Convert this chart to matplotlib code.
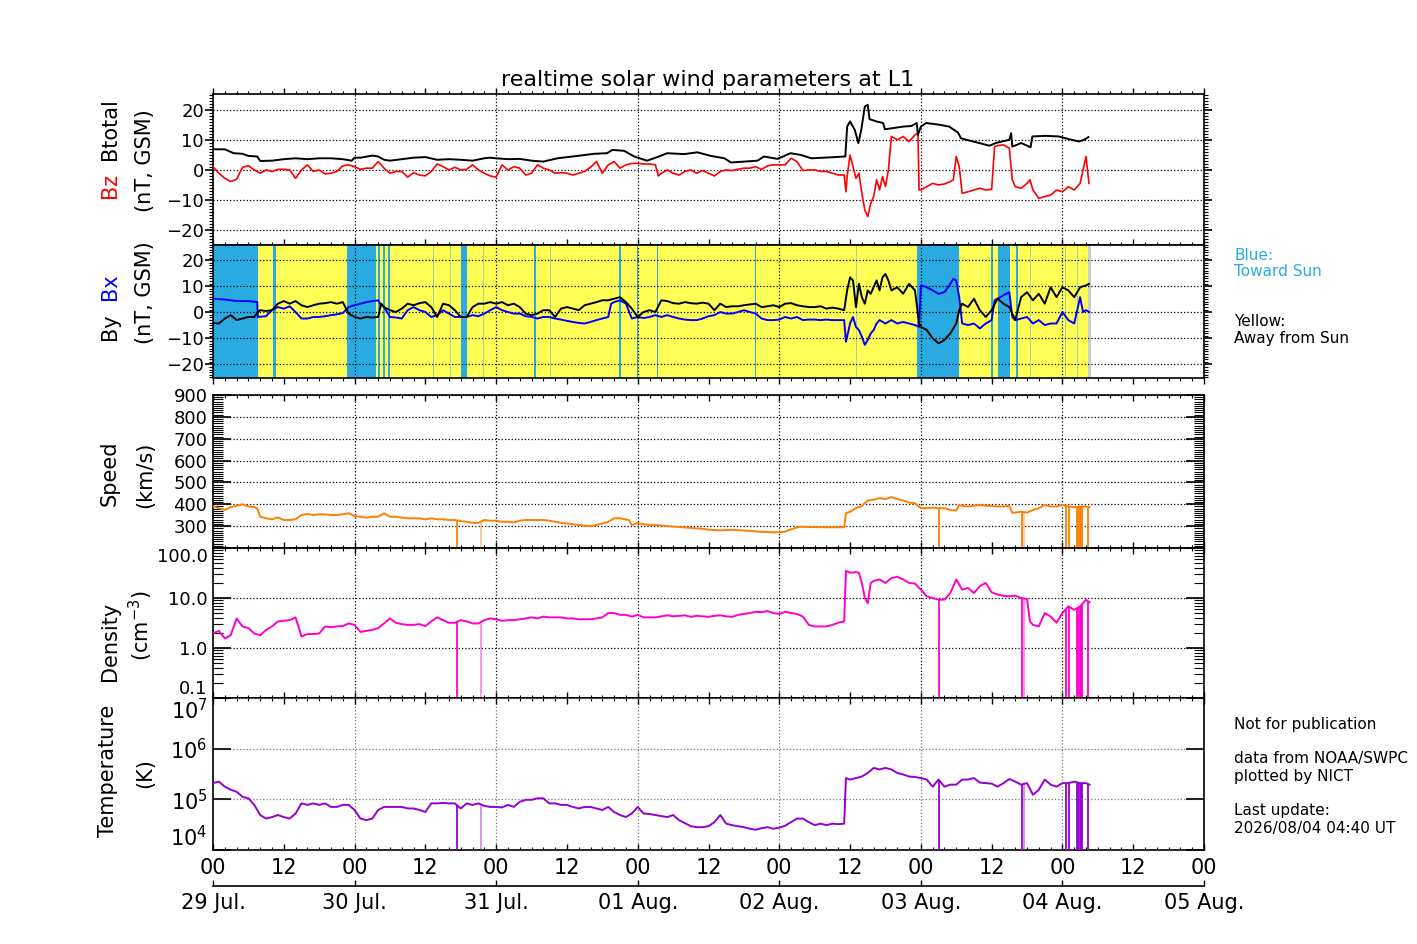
import numpy as np
import matplotlib
matplotlib.use('Agg')
import matplotlib.pyplot as plt
from matplotlib.ticker import MultipleLocator, FixedLocator, LogLocator, NullFormatter

# 時刻は 29 Jul. 00 UT からの経過時間 [h]
# 磁場 Btotal [nT]
bt = [(0,7.0),(2,7.0),(3.5,5.7),(5,5.5),(6,4.8),(7.5,4.6),(8,3.1),(10,3.2),(12,3.7),(14,4.0),
      (16,3.7),(18,4.0),(20,4.0),(22,3.7),(23.5,3.2),(24,4.2),(25,4.2),(27,4.9),(28,4.6),(29,3.5),
      (30,3.2),(32,3.7),(34,4.2),(36,4.4),(38,3.5),(40,3.7),(42,3.5),(44,3.2),(46,4.0),(47,4.2),
      (48,4.0),(50,3.7),(52,3.8),(54,3.2),(56,2.9),(58.4,4.0),(61.8,4.8),(64.6,5.5),(66.8,5.7),(67.7,6.8),
      (69.7,6.5),(71.4,4.6),(73.6,3.2),(75.6,4.6),(77,5.7),(79.9,5.4),(82.1,6.0),(84.4,4.8),(86.7,4.0),(87.8,2.6),
      (90.1,2.9),(92.3,3.2),(93.4,4.6),(95.7,3.8),(97.9,5.7),(99.7,5.1),(101.4,4.0),(103.6,4.2),(107.2,4.6),(107.5,14.6),
      (108,16.3),(108.8,13.5),(109.4,9.1),(109.9,13.5),(110.5,21.3),(111,21.9),(111.3,17.1),(112.5,16.3),(113.6,15.8),(113.9,13.7),
      (115.3,14.1),(117,14.6),(118.4,14.8),(119.3,15.8),(119.5,11.8),(120,14.6),(120.9,15.8),(123.2,15.2),(124.8,14.6),(126.3,12.6),
      (126.8,10.7),(127.7,10.2),(129.9,9.1),(131.6,8.2),(132.7,9.1),(135,10.2),(135.3,12.4),(135.5,7.9),(137,9.1),(138.6,7.7),
      (138.9,11.3),(141.2,11.5),(143.4,11.3),(145.1,10.4),(146.8,9.6),(147.7,10.2),(148.4,11.1)]

# Bz (GSM) [nT]
bz = [(0,1.2),(1,-1.0),(2,-2.7),(3,-3.8),(4,-3.0),(5,1.0),(6,1.5),(7,0.1),(8,-1.0),(9,0.1),
      (10,-0.4),(11,0.3),(12,0.3),(13,0.1),(14,-2.7),(15,0.1),(16,1.8),(17,-0.4),(18,0.1),(19,-1.2),
      (20,-1.0),(21,-0.4),(22,1.5),(23,1.8),(24,1.2),(25,0.3),(26,0.7),(27,0.7),(28,2.9),(29,0.7),
      (30,-1.0),(31,-0.4),(32,-0.4),(33,-2.3),(34,-0.8),(35,-1.6),(36,-1.9),(37,-0.4),(38,2.1),(39,1.2),
      (40,0.1),(41,1.0),(42,0.1),(43,0.3),(44,1.8),(45,0.1),(46,-1.0),(47,-1.9),(48,-2.3),(49,1.8),
      (50,0.1),(51,1.2),(52,0.7),(53,-1.6),(54,-1.0),(55,1.8),(56,0.7),
      (57,0.1),(58,-1.0),(59,-0.8),(60,-1.0),(61,-1.6),(62,-1.0),(63,-0.4),(64,1.0),(65,2.9),(66,-1.0),
      (67,1.8),(68,2.9),(69,0.7),(70,1.8),(71,2.3),(72,2.3),(73,2.1),(74,2.1),(75,1.8),(75.5,-1.9),
      (76,-1.0),(77,0.1),(78,-1.0),(79,-1.6),(80,-0.4),(81,0.1),(82,-1.0),(83,-0.1),(84,-1.0),(85,-1.9),
      (86,-0.4),(87,0.1),(88,-0.1),(89,0.3),(90,0.7),(91,0.7),(92,1.2),(93,0.3),(94,1.5),(95,1.8),
      (96,1.8),(97,1.8),(98,4.0),(99,2.9),(100,-0.1),(101,0.1),(102,0.1),(103,-0.4),(104,-0.4),(105,-1.0),
      (106,-1.6),(107,-1.6),(107.3,-7.2),(107.5,-2.1),(108,5.1),(108.5,1.2),(109,-2.7),(109.5,-1.0),(110,-7.7),(110.5,-13.3),
      (111,-15.5),(111.5,-11.1),(112,-8.8),(112.5,-3.2),(113,-6.6),(113.5,-2.1),(114,-5.4),(114.5,0.1),(115,11.3),(116,10.2),
      (117,11.3),(118,9.6),(119,11.8),(119.5,12.4),(119.7,-6.6),(120,-6.6),(121,-5.5),(122,-4.4),(123,-4.9),(124,-4.6),
      (125,-3.8),(125.5,-3.2),(126,4.6),(126.5,1.2),(127,-7.7),(128,-7.2),(129,-6.6),(130,-6.0),(131,-6.6),(132,-6.4),
      (132.5,7.9),(133,8.2),(134,8.5),(135,7.4),(135.5,-3.2),(136,-5.5),(137,-6.0),(138,-4.4),(138.5,-3.2),(139,-6.6),
      (140,-9.4),(141,-8.8),(142,-8.3),(143,-6.6),(144,-7.2),(145,-5.5),(146,-6.6),(147,-4.4),(147.5,0.1),(148,4.6),
      (148.5,-4.4)]

# Bx (GSM) [nT]
bx = [(0,5.2),(2,4.9),(4,4.3),(6,4.3),(7.5,3.9),(7.6,-1.8),(9,-1.5),(10,0.8),(11,2.0),(12,1.4),
      (13,2.3),(14,0.1),(15,-2.4),(16,-2.4),(17,-1.8),(18,-1.8),(19,-1.5),(20,-1.1),(21,-0.8),(22,-0.3),
      (23,2.0),(24,2.7),(25,3.3),(26,3.9),(27,4.3),(28,4.6),(28.5,2.7),(29,2.0),(30,-1.8),(31,-2.0),
      (32,-2.4),(33,0.8),(34,2.0),(35,0.8),(36,0.1),(37,-1.8),(38,-1.1),(39,0.8),(40,-0.5),(41,-1.8),
      (42,-1.8),(43,-1.8),(44,-1.1),(45,-1.5),(46,-0.5),(47,0.8),(48,2.0),(49,0.8),(50,0.1),(51,-0.5),
      (52,-0.5),(53,-1.5),(54,-1.8),(55,-2.4),(56,-1.8),
      (57,-1.8),(58,-2.4),(59,-2.8),(60,-3.3),(61,-3.7),(62,-4.1),(63,-4.3),(64,-3.7),(65,-3.0),(66,-2.4),
      (67,-1.8),(67.5,3.3),(68,3.9),(69,4.6),(70,3.3),(71,-2.4),(72,-1.8),(73,-2.2),(74,-1.8),(75,-1.1),
      (76,-1.8),(77,-1.1),(78,-1.8),(79,-2.4),(80,-2.8),(81,-3.0),(82,-3.0),(83,-2.4),(84,-1.5),(85,-1.1),
      (86,0.1),(87,-0.5),(88,-0.5),(89,0.1),(90,0.8),(91,0.1),(92,-0.5),(93,-2.4),(94,-3.0),(95,-3.0),
      (96,-2.8),(97,-1.8),(98,-2.4),(99,-1.8),(100,-3.0),(101,-2.8),(102,-2.8),(103,-3.0),(104,-2.8),(105,-3.0),
      (106,-3.0),(107,-3.0),(107.3,-11.3),(107.5,-9.4),(108,-4.3),(108.5,-1.8),(109,-5.6),(109.5,-6.8),(110,-9.4),(110.5,-12.5),
      (111,-10.6),(111.5,-8.1),(112,-6.8),(112.5,-4.3),(113,-3.0),(114,-4.3),(115,-3.0),(116,-4.3),(117,-3.7),(118,-4.3),
      (119,-4.9),(119.7,-5.6),(120,10.3),(121,9.6),(122,8.4),(123,7.1),(124,7.7),(125,10.9),(125.5,12.8),(126,12.2),
      (126.5,5.8),(127,-4.3),(128,-4.9),(129,-4.3),(130,-6.2),(131,-4.3),(132,-3.0),(132.5,4.6),(133,5.2),(134,6.5),
      (135,7.7),(135.5,-1.8),(136,-3.0),(137,-2.4),(138,-1.8),(139,-4.3),(140,-3.0),(141,-4.9),(142,-4.3),(143,-4.3),
      (144,0.1),(145,-3.0),(146,-4.3),(147,5.8),(147.5,0.1),(148,0.8),(148.5,0.1)]

# By (GSM) [nT]
by = [(0,-4.1),(1,-4.3),(2,-2.4),(3,-1.1),(4,-3.0),(5,-2.4),(6,-1.8),(7,-1.8),(7.6,0.1),(8,0.8),
      (9,0.5),(10,0.8),(11,3.3),(12,4.3),(13,3.3),(14,4.3),(15,2.7),(16,2.0),(17,2.7),(18,3.3),
      (19,3.5),(20,3.9),(21,3.3),(22,3.9),(23,-0.5),(24,-1.8),(25,-2.4),(26,-1.8),(27,-2.0),(28,-1.8),
      (28.5,3.3),(29,2.0),(30,0.8),(31,0.1),(32,1.4),(33,3.3),(34,2.7),(35,3.5),(36,3.9),(37,2.0),
      (38,-1.8),(39,3.3),(40,2.7),(41,0.8),(42,-1.8),(43,-1.8),(44,2.0),(45,3.3),(46,3.3),(47,3.9),
      (48,3.3),(49,3.9),(50,2.7),(51,3.3),(52,2.0),(53,-0.5),(54,-1.1),(55,-0.5),(56,0.8),
      (57,0.8),(58,-1.8),(59,1.4),(60,2.0),(61,1.4),(62,0.8),(63,2.7),(64,3.3),(65,3.9),(66,4.6),
      (67,4.6),(68,5.2),(69,5.8),(70,3.9),(71,1.4),(72,-1.8),(73,0.1),(74,0.8),(75,0.1),(76,4.6),
      (77,4.3),(78,3.5),(79,3.3),(80,3.9),(81,3.5),(82,3.3),(83,3.7),(84,3.3),(85,0.8),(86,3.3),
      (87,2.0),(88,2.3),(89,2.3),(90,2.7),(91,3.0),(92,3.3),(93,2.0),(94,2.3),(95,2.7),(96,2.0),
      (97,3.3),(98,3.5),(99,2.7),(100,2.3),(101,2.0),(102,2.0),(103,2.3),(104,1.4),(105,1.8),(106,1.4),
      (107,0.8),(107.5,8.4),(108,13.4),(108.5,12.2),(109,2.0),(109.5,10.9),(110,5.8),(110.5,3.3),(111,8.4),(111.5,7.1),
      (112,9.6),(112.5,12.2),(113,8.4),(113.5,13.4),(114,14.7),(114.5,12.2),(115,8.4),(116,9.6),(117,7.1),(118,10.9),
      (119,8.4),(119.7,-4.3),(120,-5.6),(121,-6.8),(122,-10.0),(123,-11.9),(124,-10.6),(125,-8.1),(126,-4.3),(126.5,0.8),
      (127,3.3),(128,2.0),(129,5.2),(130,0.8),(131,-1.8),(132,0.8),(133,5.2),(134,3.3),(135,2.0),(136,-3.0),
      (137,5.8),(138,7.7),(139,4.6),(140,7.1),(141,3.3),(142,9.6),(143,5.8),(144,9.6),(145,8.4),(146,5.8),
      (147,9.6),(148,10.3),(148.5,10.9)]

# IMF セクター: 青 (Toward Sun) の区間 [h]
toward_spans = [(0,7.6),(10.2,10.6),(22.8,27.7),(28.0,28.3),(28.9,29.2),(29.6,30.0),(42.0,43.0),
                (54.5,54.7),(68.8,69.2),(71.9,72.1),(75.2,75.5),(91.9,92.1),(119.3,126.4),
                (131.9,132.3),(133.0,135.1),(136.1,136.4)]
faint_spans = [(14.0,14.15),(37.3,37.4),(37.9,38.0),(40.2,40.3),(45.8,45.9),(57.2,57.3),(109.0,109.1),
               (130.8,130.9),(138.5,138.6),(141.5,141.6),(144.5,144.6),(146.5,146.6),(147.3,147.4)]
data_end = 148.6

# 太陽風速度 [km/s]
speed = [(0,390),(1,382),(2,374),(3,387),(4,393),(5,400),(6,390),(7,387),(7.5,382),(8,343),
         (9,336),(10,331),(11,340),(12,328),(13,328),(14,331),(15,351),(16,356),(17,351),(18,354),
         (19,354),(20,351),(21,351),(22,354),(23,359),(24,346),(25,343),(26,339),(27,343),(28,343),
         (29,359),(30,343),(31,343),(32,339),(33,336),(34,336),(35,336),(36,331),(37,336),(38,331),
         (39,331),(40,328),(41,328),(42,323),(43,320),(44,315),(45,315),(46,328),(47,325),(48,325),
         (49,320),(50,320),(51,317),(52,325),(53,328),(54,328),(55,328),(56,328),(57,325),(58,320),
         (59,315),(60,312),(61,309),(62,305),(63,302),(64,300),(65,305),(66,312),(67,320),(68,336),
         (69,336),(70,331),(70.5,328),(71,305),(72,315),(73,309),(74,305),(75,305),(76,303),(77,300),
         (78,298),(79,296),(80,294),(81,292),(82,290),(83,288),(84,284),(85,282),(86,281),(87,282),
         (88,283),(89,282),(90,280),(91,278),(92,276),(93,274),(94,273),(95,272),(96,272),(97,275),
         (98,285),(99,294),(99.5,297),(101,296),(104,295),(107,295),(107.3,359),(108,366),(109,382),(110,393),
         (111,417),(112,421),(113,428),(114,424),(115,433),(116,424),(117,417),(118,408),(119,405),(120,382),
         (121,382),(122,385),(123,382),(124,382),(125,374),(126,371),(126.5,397),(127,393),(128,390),(129,393),
         (130,397),(131,393),(132,393),(133,390),(134,390),(135,393),(135.5,362),(136,362),(137,366),(138,362),
         (139,374),(140,382),(141,397),(142,390),(143,390),(144,397),(145,390),(146,387),(147,390),(148,390),
         (148.6,387)]

# 密度 [cm^-3]
density = [(0,1.95),(1,2.2),(2,1.55),(3,1.8),(4,3.9),(5,2.7),(6,2.5),(7,1.95),(8,1.8),(9,2.3),
           (10,2.7),(11,3.4),(12,3.5),(13,3.6),(14,4.1),(15,1.7),(16,1.9),(17,1.9),(18,1.95),(19,2.7),
           (20,2.6),(21,2.7),(22,2.75),(23,3.1),(24,2.9),(25,2.1),(26,2.2),(27,2.3),(28,2.5),(29,3.1),
           (30,3.9),(31,3.2),(32,3.0),(33,2.9),(34,2.9),(35,3.0),(36,2.75),(37,3.4),(38,4.1),(39,3.6),
           (40,3.2),(41,3.2),(42,3.6),(43,3.4),(44,3.1),(45,3.1),(46,3.6),(47,3.9),(48,3.75),(49,3.5),
           (50,3.6),(51,3.6),(52,3.75),(53,3.9),(54,4.1),(55,3.9),(56,4.25),(57,4.1),(58,4.1),(59,4.1),
           (60,3.9),(61,3.9),(62,3.75),(63,3.75),(64,3.75),(65,3.9),(66,4.1),(67,5.0),(68,5.0),(69,4.6),
           (70,4.6),(71,4.25),(72,4.6),(73,4.1),(74,4.1),(75,4.1),(76,4.3),(77,4.5),(78,4.3),(79,4.4),
           (80,4.5),(81,4.2),(82,4.4),(83,4.3),(84,4.2),(85,4.4),(86,4.5),(87,4.3),(88,4.2),(89,4.6),
           (90,4.8),(91,5.0),(92,5.3),(93,5.2),(94,5.5),(95,5.0),(96,4.8),(97,5.3),(98,5.0),(99,4.8),
           (100,4.25),(101,2.9),(102,2.7),(103,2.7),(104,2.7),(105,2.9),(106,3.2),(107,3.4),(107.3,35),(108,32),
           (109,33),(109.5,32),(110,20),(110.5,10),(111,7.9),(111.5,20),(112,22),(113,23.5),(114,20),(115,25),
           (116,26.6),(117,23.5),(118,20),(119,19.5),(120,14.7),(121,10.8),(122,10),(123,9.25),(124,9.25),(125,12.6),
           (126,23.5),(127,14.7),(128,15.9),(129,12.6),(130,17.2),(131,20),(132,13),(133,11.7),(134,11.1),(135,10.8),
           (136,11.1),(137,10),(138,9.5),(138.5,3.4),(139,2.9),(140,2.7),(141,5.0),(142,4.25),(143,3.2),(144,5.0),
           (145,6.8),(146,5.8),(147,6.8),(148,9.25),(148.6,8.2)]

# 温度 log10(T [K])
log_temp = [(0,5.32),(1,5.35),(2,5.25),(3,5.19),(4,5.15),(5,5.05),(6,5.02),(7,4.89),(8,4.69),(9,4.62),
            (10,4.65),(11,4.69),(12,4.65),(13,4.62),(14,4.72),(15,4.92),(16,4.89),(17,4.92),(18,4.89),(19,4.92),
            (20,4.85),(21,4.85),(22,4.89),(23,4.89),(24,4.79),(25,4.62),(26,4.59),(27,4.62),(28,4.79),(29,4.85),
            (30,4.85),(31,4.85),(32,4.85),(33,4.82),(34,4.82),(35,4.79),(36,4.75),(37,4.92),(38,4.92),(39,4.93),
            (40,4.92),(41,4.92),(42,4.82),(43,4.92),(44,4.89),(45,4.92),(46,4.87),(47,4.85),(48,4.85),(49,4.84),
            (50,4.89),(51,4.85),(52,4.95),(53,4.99),(54,4.99),(55,5.02),(56,5.02),(57,4.92),(58,4.92),(59,4.89),
            (60,4.89),(61,4.85),(62,4.82),(63,4.85),(64,4.85),(65,4.82),(66,4.79),(67,4.85),(68,4.75),(69,4.69),
            (70,4.65),(71,4.72),(72,4.85),(73,4.72),(74,4.71),(75,4.69),(76,4.67),(77,4.65),(78,4.69),(79,4.59),
            (80,4.53),(81,4.47),(82,4.45),(83,4.45),(84,4.47),(85,4.55),(86,4.69),(87,4.52),(88,4.49),(89,4.47),
            (90,4.45),(91,4.42),(92,4.40),(93,4.43),(94,4.45),(95,4.42),(96,4.44),(97,4.48),(98,4.55),(99,4.62),
            (100,4.62),(101,4.55),(102,4.49),(103,4.52),(104,4.49),(105,4.52),(106,4.51),(107,4.52),(107.3,5.42),(108,5.39),
            (109,5.42),(110,5.45),(111,5.52),(112,5.62),(113,5.59),(114,5.62),(115,5.59),(116,5.52),(117,5.49),(118,5.45),
            (119,5.44),(120,5.42),(121,5.39),(122,5.25),(123,5.39),(124,5.25),(125,5.29),(126,5.29),(127,5.39),(128,5.39),
            (129,5.42),(130,5.33),(131,5.32),(132,5.31),(133,5.25),(134,5.32),(135,5.40),(136,5.35),(137,5.29),(138,5.32),
            (139,5.09),(140,5.19),(141,5.39),(142,5.29),(143,5.25),(144,5.32),(145,5.32),(146,5.35),(147,5.32),(148,5.32),
            (148.6,5.29)]

# データ欠測 (プラズマ) の時刻 [h]
gaps = [41.4, 123.0, 137.2, 144.6, 145.1, 146.5, 146.7, 146.9, 147.1, 147.3, 148.3]
gaps_faint = [45.4, 137.5]

hour_labels = ['00', '12'] * 7 + ['00']
day_labels = ['29 Jul.', '30 Jul.', '31 Jul.', '01 Aug.', '02 Aug.', '03 Aug.', '04 Aug.', '05 Aug.']


def xy(pairs):
    a = np.array(pairs, dtype=float)
    return a[:, 0], a[:, 1]


plt.rcParams['font.family'] = ['DejaVu Sans']

W_PX, H_PX = 1417, 944
fig = plt.figure(figsize=(W_PX / 100, H_PX / 100), dpi=100)
L, W = 213 / W_PX, 991 / W_PX


def box(top, bot):
    return [L, 1 - bot / H_PX, W, (bot - top) / H_PX]


ax1 = fig.add_axes(box(94, 245))
ax2 = fig.add_axes(box(245, 378))
ax3 = fig.add_axes(box(395, 548))
ax4 = fig.add_axes(box(548, 698))
ax5 = fig.add_axes(box(698, 850))


def style(ax, tdir, ymaj, ymin, gcol='k', ypad=4):
    ax.set_xlim(0, 168)
    ax.xaxis.set_major_locator(MultipleLocator(12))
    ax.xaxis.set_minor_locator(MultipleLocator(2))
    ax.tick_params(which='both', direction=tdir, top=True, right=True,
                   labelbottom=False, labelsize=13)
    ax.tick_params(axis='x', which='major', length=4.5, width=1)
    ax.tick_params(axis='x', which='minor', length=2.5, width=0.8)
    ax.tick_params(axis='y', which='major', length=ymaj, width=1.2, pad=ypad)
    ax.tick_params(axis='y', which='minor', length=ymin, width=0.8)
    for d in range(24, 168, 24):
        ax.axvline(d, color=gcol, ls=':', lw=0.9, zorder=1)
    ax.grid(axis='y', which='major', ls=':', color=gcol, lw=0.9)
    ax.set_axisbelow(False)
    for s in ax.spines.values():
        s.set_linewidth(1.2)


# --- Btotal / Bz ---
style(ax1, 'out', 5.5, 3, ypad=1)
ax1.set_ylim(-25, 25.5)
ax1.yaxis.set_major_locator(FixedLocator([-20, -10, 0, 10, 20]))
ax1.yaxis.set_minor_locator(MultipleLocator(1))
t, v = xy(bz)
ax1.plot(t, v, color='#ff0000', lw=1.2, zorder=3)
t, v = xy(bt)
ax1.plot(t, v, color='k', lw=1.4, zorder=4)

# --- By / Bx with sector colours ---
style(ax2, 'out', 5.5, 3, ypad=1)
ax2.set_ylim(-25.2, 25.8)
ax2.yaxis.set_major_locator(FixedLocator([-20, -10, 0, 10, 20]))
ax2.yaxis.set_minor_locator(MultipleLocator(1))
ax2.axvspan(0, data_end, color='#ffff55', lw=0, zorder=0)
for a, b in toward_spans:
    ax2.axvspan(a, b, color='#29abe2', lw=0, zorder=0.5)
for a, b in faint_spans:
    ax2.axvspan(a, b, color='#29abe2', alpha=0.45, lw=0, zorder=0.5)
ax2.axvspan(data_end - 0.2, data_end + 0.2, color='#cccccc', lw=0, zorder=0.5)
t, v = xy(bx)
ax2.plot(t, v, color='#0000ff', lw=1.4, zorder=3)
t, v = xy(by)
ax2.plot(t, v, color='k', lw=1.4, zorder=4)

# --- Speed ---
style(ax3, 'in', 13, 7)
ax3.set_ylim(200, 900)
ax3.yaxis.set_major_locator(FixedLocator(range(300, 901, 100)))
ax3.yaxis.set_minor_locator(MultipleLocator(10))
t, v = xy(speed)
ax3.plot(t, v, color='#ff8000', lw=1.4, zorder=3)
ax3.vlines(gaps, 200, np.interp(gaps, t, v), color='#ff8000', lw=1.3, zorder=3)
ax3.vlines(gaps_faint, 200, np.interp(gaps_faint, t, v), color='#ff8000', alpha=0.45, lw=1.3, zorder=3)

# --- Density ---
style(ax4, 'in', 13, 7)
ax4.set_yscale('log')
ax4.set_ylim(0.1, 100)
ax4.yaxis.set_major_locator(FixedLocator([0.1, 1, 10, 100]))
ax4.yaxis.set_minor_locator(LogLocator(base=10, subs=np.arange(2, 10)))
ax4.yaxis.set_minor_formatter(NullFormatter())
ax4.set_yticklabels(['0.1', '1.0', '10.0', '100.0'])
lab = ax4.get_yticklabels()
lab[0].set_va('bottom')
lab[-1].set_va('top')
t, v = xy(density)
ax4.plot(t, v, color='#ff00cc', lw=1.4, zorder=3)
ax4.vlines(gaps, 0.1, np.interp(gaps, t, v), color='#ff00cc', lw=1.3, zorder=3)
ax4.vlines(gaps_faint, 0.1, np.interp(gaps_faint, t, v), color='#ff00cc', alpha=0.45, lw=1.3, zorder=3)

# --- Temperature ---
style(ax5, 'in', 13, 7, gcol='#777777')
ax5.set_yscale('log')
ax5.set_ylim(1e4, 1e7)
ax5.yaxis.set_major_locator(FixedLocator([1e4, 1e5, 1e6, 1e7]))
ax5.yaxis.set_minor_locator(LogLocator(base=10, subs=np.arange(2, 10)))
ax5.yaxis.set_minor_formatter(NullFormatter())
ax5.set_yticklabels(['$10^4$', '$10^5$', '$10^6$', '$10^7$'])
ax5.tick_params(axis='y', which='major', labelsize=15)
lab = ax5.get_yticklabels()
lab[0].set_va('bottom')
lab[-1].set_va('top')
t, v = xy(log_temp)
temp = 10 ** v
ax5.plot(t, temp, color='#9400d3', lw=1.4, zorder=3)
ax5.vlines(gaps, 1e4, np.interp(gaps, t, temp), color='#9400d3', lw=1.3, zorder=3)
ax5.vlines(gaps_faint, 1e4, np.interp(gaps_faint, t, temp), color='#9400d3', alpha=0.45, lw=1.3, zorder=3)
ax5.set_xticks(range(0, 169, 12))
ax5.set_xticklabels(hour_labels)
ax5.tick_params(axis='x', which='major', labelbottom=True, labelsize=15, pad=6)

# --- date axis ---
axd = fig.add_axes([L, 1 - 886 / H_PX, W, 0.0001])
axd.set_xlim(0, 168)
axd.set_xticks(range(0, 169, 24))
axd.set_xticklabels(day_labels)
axd.set_yticks([])
for s in ['top', 'left', 'right']:
    axd.spines[s].set_visible(False)
axd.spines['bottom'].set_linewidth(1.2)
axd.patch.set_visible(False)
axd.tick_params(axis='x', direction='in', length=4, width=1, labelsize=15, pad=5)

# --- texts ---
def ft(x, y, s, **kw):
    fig.text(x / W_PX, 1 - y / H_PX, s, **kw)


ft(708, 80, 'realtime solar wind parameters at L1', ha='center', va='center', fontsize=16)
ylab = dict(rotation=90, ha='center', va='center', fontsize=15)
ft(110, 129, 'Btotal', **ylab)
ft(110, 185, 'Bz', color='#ff0000', **ylab)
ft(145, 161, '(nT, GSM)', **ylab)
ft(110, 287, 'Bx', color='#0000ff', **ylab)
ft(110, 327, 'By', **ylab)
ft(145, 293, '(nT, GSM)', **ylab)
ft(110, 473, 'Speed', **ylab)
ft(145, 475, '(km/s)', **ylab)
ft(110, 641, 'Density', **ylab)
ft(141, 626, '(cm$^{-3}$)', **ylab)
ft(108, 771, 'Temperature', **ylab)
ft(145, 773, '(K)', **ylab)

side = dict(ha='left', va='center', fontsize=11)
ft(1234, 256, 'Blue:', color='#29abe2', **side)
ft(1234, 272, 'Toward Sun', color='#29abe2', **side)
ft(1234, 321, 'Yellow:', **side)
ft(1234, 338, 'Away from Sun', **side)
ft(1234, 724, 'Not for publication', **side)
ft(1234, 759, 'data from NOAA/SWPC', **side)
ft(1234, 776, 'plotted by NICT', **side)
ft(1234, 811, 'Last update:', **side)
ft(1234, 828, '2026/08/04 04:40 UT', **side)

fig.savefig('out.png', dpi=100)
